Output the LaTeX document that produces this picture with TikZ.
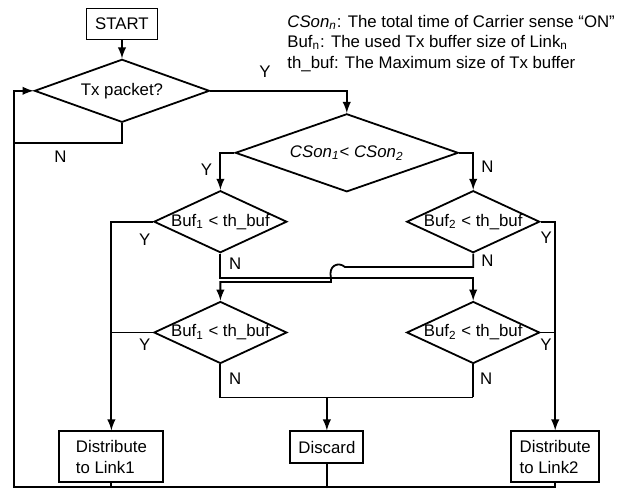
\documentclass[tikz,border=0pt]{standalone}
\usepackage{fontspec}
\setmainfont{Liberation Sans}
\usepackage{tikz}
\usetikzlibrary{shapes.geometric, arrows, positioning, calc}

\begin{document}
\begin{tikzpicture}[
        x=1pt, y=1pt,
        every node/.style = {font=\fontsize{8.4}{10.25}\selectfont},
        stepbox/.style = {rectangle, draw=black, line width=0.9pt, inner sep=0pt, align=left},
        decision/.style = {diamond, draw=black, line width=0.9pt, inner sep=0pt, inner xsep=-3pt, aspect=2.15, minimum width=66.5pt, minimum height=31pt},
        lbl/.style = {inner sep=0pt},
        arrow/.style = {line width=0.9pt, ->, >=latex},
        wire/.style = {line width=0.9pt}
    ]
    \useasboundingbox (0,0) rectangle (314.5,-244);

    % --- LEGEND ---
    \node[anchor=north west, inner sep=0pt, align=left] (legend) at (143.5,-7.3)
        {\textit{CSon\textsubscript{n}}: The total time of Carrier sense “ON”\\
         Buf\textsubscript{n}: The used Tx buffer size of Link\textsubscript{n}\\
         th\_buf: The Maximum size of Tx buffer};

    % --- BLOCKS ---
    \node[stepbox, minimum width=35.5pt, minimum height=15.5pt] (start) at (61,-12) {START};
    \node[decision, minimum width=87.5pt, minimum height=31.5pt, aspect=2.78, below=9pt of start] (tx) {Tx packet?};
    \node[decision, minimum width=111.5pt, minimum height=39pt, aspect=2.86, right=12pt of tx, yshift=-31pt] (cson)
        {\textit{CSon\textsubscript{1}}< \textit{CSon\textsubscript{2}}};

    % buffer checks (first row, then second row)
    \node[decision, below=18.5pt of cson.west, xshift=-7pt] (bufa) {Buf\textsubscript{1} < th\_buf};
    \node[decision, below=18.5pt of cson.east, xshift=7pt] (bufb) {Buf\textsubscript{2} < th\_buf};
    \node[decision, below=23.5pt of bufa] (bufc) {Buf\textsubscript{1} < th\_buf};
    \node[decision, below=23.5pt of bufb] (bufd) {Buf\textsubscript{2} < th\_buf};

    % results
    \node[stepbox, minimum width=52pt, minimum height=25.5pt, below=33pt of bufc.south, xshift=-54.5pt] (link1) {Distribute\\to Link1};
    \node[stepbox, minimum width=36.5pt, minimum height=16pt, below=33pt of bufc.south, xshift=53.25pt] (discard) {Discard};
    \node[stepbox, minimum width=44pt, minimum height=25.5pt, below=33pt of bufd.south, xshift=41pt] (link2) {Distribute\\to Link2};

    \coordinate (corner) at (7,-243.5);
    \coordinate (hopin) at (172.5,-133.5);
    \coordinate (hopout) at (165.5,-139);

    % --- CONNECTORS ---
    \draw[arrow] (start) -- (tx);
    \draw[arrow] (tx.east) -| node[lbl, pos=0.2, above=6.3pt] {Y} (cson.north);
    \draw[wire] (tx.south) |- node[lbl, pos=0.785, below=3.35pt] {N} ([yshift=-10pt]tx.south -| corner);

    \draw[arrow] (cson.west) -| node[lbl, pos=0.73, left=3.7pt] {Y} (bufa.north);
    \draw[arrow] (cson.east) -| node[lbl, pos=0.69, right=3.7pt] {N} (bufb.north);

    % Y branches down to the distribute boxes
    \draw[arrow] (bufa.west) -| node[lbl, pos=0.1, below=5.85pt] {Y} (link1.north);
    \draw[arrow] (bufb.east) -| node[lbl, pos=0.19, below=4.85pt] {Y} (link2.north);
    \draw[wire] (bufc.west) -- node[lbl, pos=0.2, below=2.85pt] {Y} (bufc.west -| link1.north);
    \draw[wire] (bufd.east) -- node[lbl, pos=0.36, below=2.85pt] {Y} (bufd.east -| link2.north);

    % N branches cross over (with a hop)
    \draw[arrow] (bufa.south) -- node[lbl, pos=0.43, right=3.97pt] {N} ++(0,-12) -| (bufd.north);
    \draw[arrow] (bufb.south) |- node[lbl, pos=0.26, right=3.7pt] {N} (hopin)
        .. controls +(-3.5,3) and +(-1.5,6) .. (hopout) -- ++(0,-2) -| (bufc.north);

    % both full -> discard
    \draw[wire] (bufc.south) |- node[lbl, pos=0.22, right=3.97pt] {N} ([yshift=-16.5pt]bufd.south);
    \draw[wire] (bufd.south) -- node[lbl, pos=0.42, right=2.97pt] {N} ++(0,-16.5);
    \coordinate (join) at ([yshift=-16.5pt]bufd.south -| discard.north);
    \draw[arrow] (join) -- (discard);

    % loop back to Tx packet?
    \draw[arrow] (link2.south) |- (corner) |- (tx.west);
    \draw[wire] (link1.south) -- (link1.south |- corner);
    \draw[wire] (discard.south) -- (discard.south |- corner);

\end{tikzpicture}
\end{document}
